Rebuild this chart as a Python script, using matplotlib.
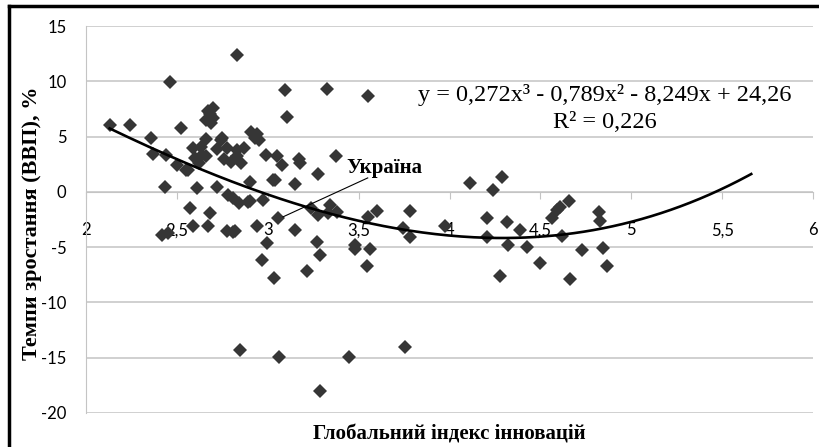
import numpy as np
import matplotlib
matplotlib.use('Agg')
import matplotlib.pyplot as plt
from matplotlib.lines import Line2D

plt.rcParams['axes.unicode_minus'] = False

# Global innovation index vs GDP growth rate
innov_index = [2.13, 2.24, 2.36, 2.37, 2.46, 2.52, 2.44, 2.50, 2.55, 2.435, 2.61, 2.72,
               2.59, 2.60, 2.62, 2.64, 2.66, 2.66, 2.66, 2.68, 2.70, 2.69, 2.67, 2.70,
               2.746, 2.774, 2.76, 2.80, 2.83, 2.83, 2.78, 2.81, 2.57, 2.68,
               2.42, 2.45, 2.59, 2.673, 2.775, 2.81, 2.829,
               2.91, 2.93, 2.95, 2.87, 2.99, 3.05, 3.17, 3.376,
               3.095, 3.324, 3.55, 3.108, 3.177, 3.278, 3.04, 3.15, 2.90, 2.84,
               2.90, 2.976, 3.058, 2.94, 3.15, 3.24, 3.278, 3.34, 3.379, 2.82,
               2.994, 2.967, 3.034, 3.27, 3.29, 3.218, 3.48, 3.48, 3.563, 3.544,
               2.847, 3.062, 3.447, 3.287, 3.755,
               3.60, 3.55, 3.78, 3.745, 3.78, 3.975, 4.113, 4.24, 4.287,
               4.205, 4.205, 4.315, 4.323, 4.388, 4.424, 4.50, 4.278,
               4.562, 4.59, 4.61, 4.66, 4.617, 4.663, 4.727,
               4.82, 4.828, 4.846, 4.865,
               2.63, 2.74, 2.85, 3.08, 3.03, 2.89, 3.33, 2.94, 2.72, 2.56]
gdp_growth = [6.05, 6.05, 4.9, 3.4, 9.96, 5.75, 3.3, 2.44, 2.0, 0.48, 0.33, 0.48,
              3.95, 3.1, 2.6, 3.3, 4.76, 3.2, 6.5, 7.0, 7.6, 6.2, 7.3, 6.7,
              4.9, 3.95, 3.0, 2.7, 3.8, 3.2, -0.3, -0.6, -1.47, -1.93,
              -3.9, -3.7, -3.1, -3.07, -3.5, -3.6, 12.38,
              5.4, 4.9, 4.7, 3.95, 3.3, 3.2, 3.0, 3.2,
              9.2, 9.27, 8.67, 6.75, 2.6, 1.63, 1.08, 0.7, 0.93, -1.0,
              -0.87, -0.72, -2.38, -3.07, -3.43, -1.47, -2.08, -1.17, -1.78, -3.58,
              -4.64, -6.14, -7.8, -4.5, -5.7, -7.2, -4.8, -5.2, -5.2, -6.75,
              -14.27, -14.9, -14.9, -18.04, -14.0,
              -1.7, -2.3, -1.72, -3.3, -4.1, -3.13, 0.79, 0.18, 1.38,
              -2.38, -4.04, -2.77, -4.79, -3.43, -5.0, -6.4, -7.65,
              -2.38, -1.63, -1.33, -0.87, -3.97, -7.86, -5.24,
              -1.78, -2.68, -5.09, -6.75,
              4.1, 4.7, 2.6, 2.4, 1.1, -0.9, -1.9, 5.2, 3.9, 2.0]

# polynomial trend line from the chart (highest power first)
trend_coefs = [0.272, -0.789, -8.249, 24.26]
trend_range = [2.13, 5.66]

xticks = [2, 2.5, 3, 3.5, 4, 4.5, 5, 5.5, 6]
xtick_labels = ['2', '2,5', '3', '3,5', '4', '4,5', '5', '5,5', '6']
yticks = [-20, -15, -10, -5, 0, 5, 10, 15]

fig = plt.figure(figsize=(8.2, 4.47), dpi=100)
ax = fig.add_axes([0.1049, 0.0761, 0.8866, 0.8657])

ax.plot(innov_index, gdp_growth, linestyle='none', marker='D', ms=7.3,
        mew=0, color='#363636', zorder=3)

xs = np.linspace(trend_range[0], trend_range[1], 200)
ax.plot(xs, np.polyval(trend_coefs, xs), color='black', lw=1.9, zorder=4)

ax.set_xlim(2, 6)
ax.set_ylim(-20, 15)
ax.set_xticks(xticks)
ax.set_xticklabels(xtick_labels)
ax.set_yticks(yticks)
ax.yaxis.grid(True, color='#c4c4c4', lw=1.1)
ax.set_axisbelow(True)

for s in ['top', 'right']:
    ax.spines[s].set_visible(False)
ax.spines['bottom'].set_position(('data', 0))
ax.spines['bottom'].set_color('#c4c4c4')
ax.spines['left'].set_color('#c4c4c4')
ax.tick_params(axis='x', direction='out', length=5, color='#c4c4c4', pad=17,
               labelsize=12)
ax.tick_params(axis='y', length=0, pad=14, labelsize=12)
for lab in ax.get_xticklabels() + ax.get_yticklabels():
    lab.set_family('Lato')

ax.set_ylabel('Темпи зростання (ВВП), %', family='Liberation Serif',
              fontweight='bold', fontsize=16)
ax.yaxis.set_label_coords(-0.061, 0.49)
ax.set_xlabel('Глобальний індекс інновацій', family='Liberation Serif',
              fontweight='bold', fontsize=15)
ax.xaxis.set_label_coords(0.5, -0.03)

ax.text(4.855, 8.76, 'y = 0,272x³ - 0,789x² - 8,249x + 24,26', ha='center',
        va='center', family='Liberation Serif', fontsize=17.5)
ax.text(4.855, 6.3, 'R² = 0,226', ha='center', va='center',
        family='Liberation Serif', fontsize=17.5)

ax.text(3.43, 2.2, 'Україна', ha='left', va='center', family='Liberation Serif',
        fontweight='bold', fontsize=15)
ax.plot([3.55, 3.084], [1.26, -2.26], color='black', lw=0.8, zorder=5)

# scanned frame edge (top and left)
fig.add_artist(Line2D([0.0104, 0.0104], [0, 0.986], transform=fig.transFigure,
                      color='black', lw=2.5))
fig.add_artist(Line2D([0.0104, 1], [0.986, 0.986], transform=fig.transFigure,
                      color='black', lw=2.5))

plt.savefig('out.png', dpi=100)
